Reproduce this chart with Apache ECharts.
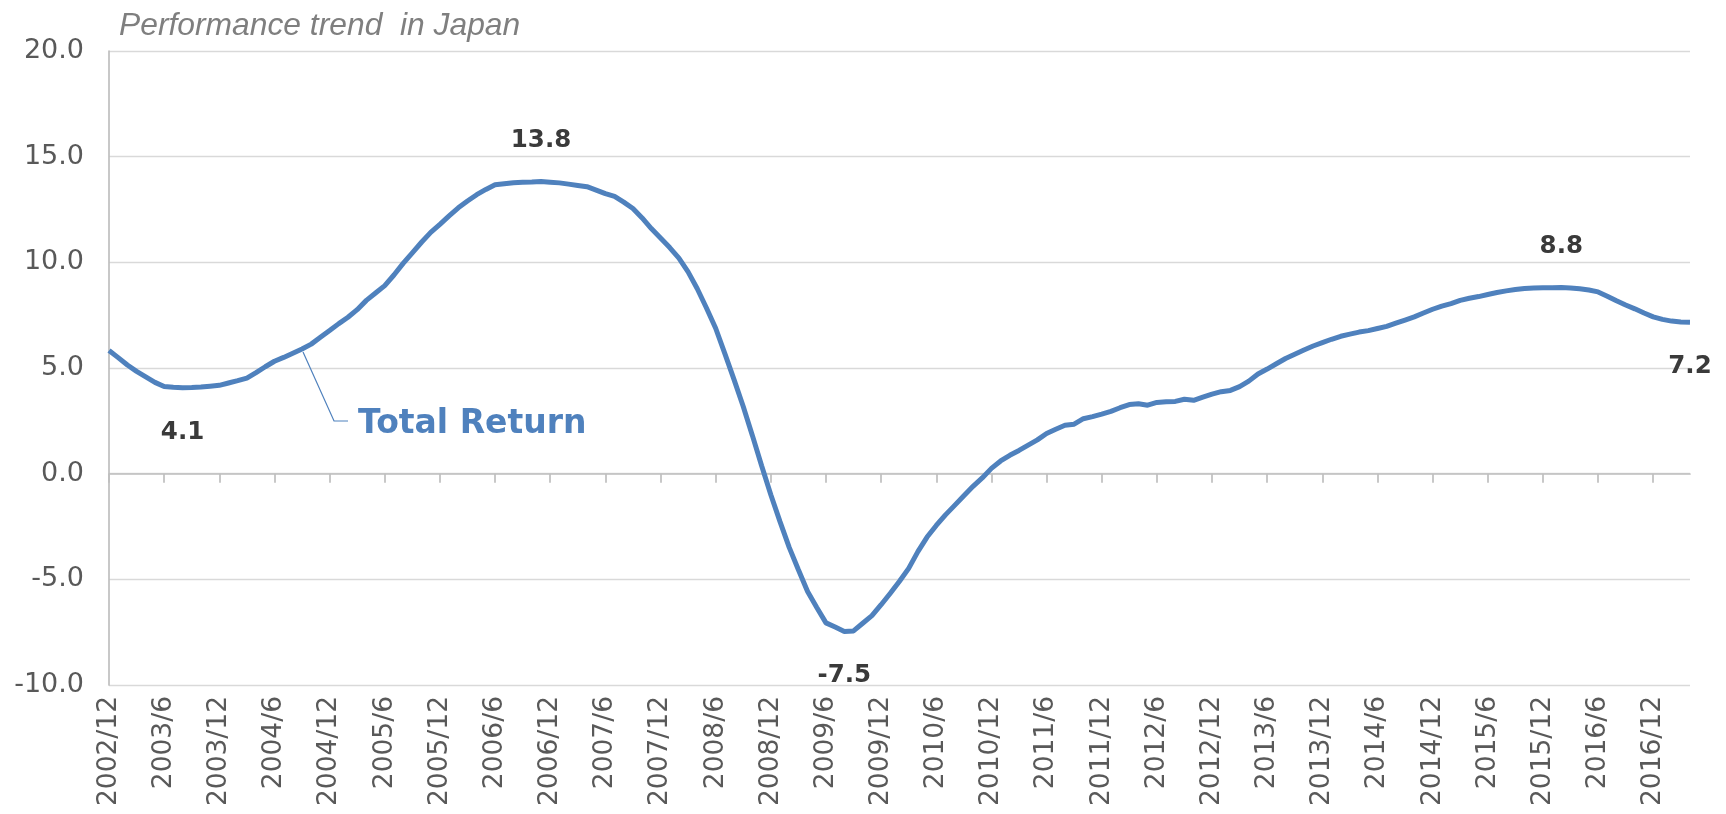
<!DOCTYPE html>
<html><head><meta charset="utf-8">
<script src="https://cdn.jsdelivr.net/npm/echarts@6/dist/echarts.min.js"></script>
<style>html,body{margin:0;padding:0;background:#fff}#c{width:1726px;height:814px}</style>
</head><body><div id="c"></div>
<script>
// ---- data ----
const titleText = 'Performance trend  in Japan';
const seriesName = 'Total Return';
const startYear = 2002, startMonth = 12;
const totalReturn = [
  5.83, 5.49, 5.14, 4.84, 4.58, 4.32, 4.12, 4.09, 4.07, 4.08, 4.10, 4.14,
  4.18, 4.29, 4.40, 4.52, 4.78, 5.06, 5.32, 5.50, 5.70, 5.90, 6.13, 6.45,
  6.77, 7.10, 7.40, 7.76, 8.20, 8.55, 8.90, 9.40, 9.95, 10.45, 10.95, 11.42,
  11.80, 12.20, 12.58, 12.90, 13.20, 13.45, 13.67, 13.72, 13.77, 13.79, 13.80, 13.82,
  13.79, 13.76, 13.70, 13.64, 13.58, 13.42, 13.25, 13.12, 12.85, 12.55, 12.10, 11.60,
  11.15, 10.70, 10.20, 9.55, 8.75, 7.84, 6.88, 5.68, 4.45, 3.18, 1.80, 0.37,
  -1.00, -2.27, -3.49, -4.55, -5.58, -6.33, -7.06, -7.26, -7.47, -7.44, -7.08, -6.72,
  -6.20, -5.66, -5.09, -4.48, -3.69, -3.00, -2.45, -1.95, -1.50, -1.05, -0.60, -0.20,
  0.25, 0.60, 0.87, 1.10, 1.35, 1.60, 1.90, 2.10, 2.29, 2.34, 2.60, 2.70,
  2.82, 2.95, 3.12, 3.27, 3.31, 3.24, 3.37, 3.40, 3.42, 3.52, 3.47, 3.62,
  3.76, 3.88, 3.94, 4.12, 4.38, 4.72, 4.95, 5.20, 5.45, 5.65, 5.85, 6.04,
  6.20, 6.36, 6.50, 6.60, 6.70, 6.77, 6.87, 6.97, 7.12, 7.27, 7.42, 7.60,
  7.78, 7.93, 8.05, 8.20, 8.30, 8.38, 8.48, 8.57, 8.65, 8.71, 8.76, 8.78,
  8.80, 8.80, 8.81, 8.79, 8.75, 8.69, 8.60, 8.40, 8.18, 7.98, 7.80, 7.60,
  7.42, 7.30, 7.22, 7.18, 7.17
];
const categories = [];
for (let i = 0; i < totalReturn.length; i++) {
  const t = startYear * 12 + (startMonth - 1) + i;
  categories.push(Math.floor(t / 12) + '/' + (t % 12 + 1));
}
const yMin = -10, yMax = 20, yStep = 5;
const labelIdx = [8, 47, 80, 158, 172];
const labelSide = ['bottom', 'top', 'bottom', 'top', 'bottom'];
const leaderIdx = 21;

// ---- chart ----
const FONT = 'DejaVu Sans';
const seriesData = totalReturn.map((v, i) => {
  const k = labelIdx.indexOf(i);
  if (k < 0) return v;
  return { value: v, label: { show: true, position: labelSide[k], distance: labelSide[k] === 'top' ? 28 : 32 } };
});

const chart = echarts.init(document.getElementById('c'), null, { renderer: 'canvas' });
chart.setOption({
  animation: false,
  backgroundColor: '#ffffff',
  title: {
    text: titleText, left: 114, top: 5,
    textStyle: { fontFamily: 'Liberation Sans', fontStyle: 'italic', fontWeight: 'normal', fontSize: 31.8, color: '#7f7f7f' }
  },
  grid: { left: 109, right: 36, top: 51, bottom: 129, containLabel: false },
  xAxis: [
    {
      type: 'category', data: categories, boundaryGap: false, position: 'bottom',
      axisLine: { show: false, onZero: false }, axisTick: { show: false },
      axisLabel: { interval: 5, rotate: 90, margin: 11, fontFamily: FONT, fontSize: 26.5, color: '#595959' },
      splitLine: { show: false }
    },
    {
      type: 'category', data: categories, boundaryGap: false, position: 'bottom',
      axisLine: { show: true, onZero: true, lineStyle: { color: '#bfbfbf', width: 1.7 } },
      axisTick: { show: true, interval: 5, length: 9, lineStyle: { color: '#bfbfbf', width: 1.7 } },
      axisLabel: { show: false }, splitLine: { show: false }
    }
  ],
  yAxis: {
    type: 'value', min: yMin, max: yMax, interval: yStep,
    axisLine: { show: true, lineStyle: { color: '#bfbfbf', width: 1.7 } },
    axisTick: { show: false },
    axisLabel: { margin: 25, fontFamily: FONT, fontSize: 27, color: '#595959', formatter: v => v.toFixed(1) },
    splitLine: { show: true, lineStyle: { color: '#d9d9d9', width: 1.3 } }
  },
  series: [{
    name: seriesName, type: 'line', xAxisIndex: 0, data: seriesData,
    symbol: 'circle', symbolSize: 0, showSymbol: true, showAllSymbol: true,
    smooth: false,
    lineStyle: { color: '#4f81bd', width: 5 },
    itemStyle: { color: '#4f81bd' },
    label: { show: false, fontFamily: FONT, fontWeight: 'bold', fontSize: 24.5, color: '#3a3a3a',
      formatter: p => Number(p.value).toFixed(1) },
    labelLayout: { hideOverlap: false },
    z: 3
  }]
});

const p = chart.convertToPixel({ seriesIndex: 0 }, [leaderIdx, totalReturn[leaderIdx]]);
chart.setOption({
  graphic: [
    { type: 'polyline', silent: true, z: 10,
      shape: { points: [[p[0] + 1, p[1] + 3], [p[0] + 32, p[1] + 72], [p[0] + 46, p[1] + 72]] },
      style: { stroke: '#4f81bd', lineWidth: 1.2, fill: null } },
    { type: 'text', silent: true, z: 10, x: p[0] + 56, y: p[1] + 75,
      style: { text: seriesName, fill: '#4f81bd', font: 'bold 33px "DejaVu Sans"', textAlign: 'left', textVerticalAlign: 'middle' } }
  ]
});
</script></body></html>
